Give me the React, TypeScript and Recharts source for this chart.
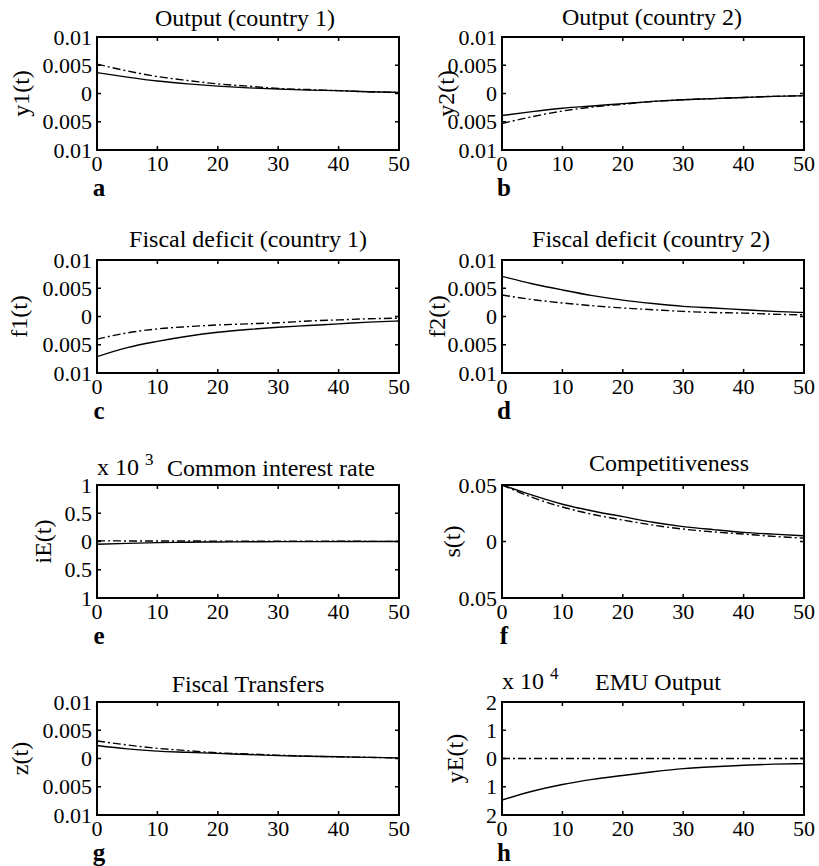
import React from 'react';
import { LineChart, Line, XAxis, YAxis, ReferenceArea } from 'recharts';

// ---- data ----
const tSteps = [0, 5, 10, 15, 20, 25, 30, 35, 40, 45, 50];
const xTicks = [0, 10, 20, 30, 40, 50];

const y1Solid = [0.0037, 0.0029, 0.0022, 0.0017, 0.0013, 0.001, 0.0008, 0.0006, 0.0005, 0.0003, 0.0002];
const y1Dash = [0.0052, 0.004, 0.003, 0.0023, 0.0017, 0.0013, 0.0009, 0.0007, 0.0005, 0.0003, 0.0002];
const y2Solid = [-0.0039, -0.0032, -0.0026, -0.0022, -0.0018, -0.0014, -0.0011, -0.0009, -0.0007, -0.0005, -0.0004];
const y2Dash = [-0.0053, -0.0041, -0.0031, -0.0024, -0.0019, -0.0014, -0.0011, -0.0009, -0.0007, -0.0005, -0.0004];
const f1Solid = [-0.0071, -0.0055, -0.0044, -0.0035, -0.0028, -0.0023, -0.0019, -0.0016, -0.0013, -0.001, -0.0008];
const f1Dash = [-0.004, -0.0029, -0.0022, -0.0018, -0.0015, -0.0013, -0.0011, -0.0008, -0.0006, -0.0004, -0.0003];
const f2Solid = [0.0071, 0.0058, 0.0047, 0.0037, 0.0029, 0.0023, 0.0018, 0.0015, 0.0012, 0.0009, 0.0007];
const f2Dash = [0.0038, 0.003, 0.0024, 0.0019, 0.0015, 0.0012, 0.0009, 0.0007, 0.0006, 0.0004, 0.0003];
const iESolid = [-0.00005, -0.000033, -0.00002, -0.000013, -0.000008, -0.000005, -0.000003, -0.000002, -0.000001, 0, 0];
const iEDash = [0.000012, 0.00001, 0.000009, 0.000008, 0.000007, 0.000006, 0.000005, 0.000004, 0.000004, 0.000003, 0.000003];
const sSolid = [0.05, 0.041, 0.033, 0.027, 0.022, 0.017, 0.0132, 0.0105, 0.0081, 0.0065, 0.0051];
const sDash = [0.05, 0.039, 0.0305, 0.024, 0.019, 0.0145, 0.011, 0.0085, 0.0066, 0.0045, 0.003];
const zSolid = [0.0023, 0.0017, 0.0013, 0.0011, 0.0009, 0.0007, 0.0005, 0.0004, 0.0003, 0.0002, 0.0001];
const zDash = [0.0031, 0.0024, 0.0018, 0.0014, 0.001, 0.0008, 0.0006, 0.0004, 0.0003, 0.0002, 0.0001];
const yESolid = [-0.000147, -0.000116, -0.000092, -0.000074, -0.00006, -0.000047, -0.000036, -0.000029, -0.000024, -0.00002, -0.000018];
const yEDash = [0, 0, 0, 0, 0, 0, 0, 0, 0, 0, 0];

const ticks01 = [-0.01, -0.005, 0, 0.005, 0.01];
const ticksS = [-0.05, 0, 0.05];
const ticksIE = [-0.001, -0.0005, 0, 0.0005, 0.001];
const ticksYE = [-0.0002, -0.0001, 0, 0.0001, 0.0002];

const titles = [
  'Output (country 1)', 'Output (country 2)',
  'Fiscal deficit (country 1)', 'Fiscal deficit (country 2)',
  'Common interest rate', 'Competitiveness',
  'Fiscal Transfers', 'EMU Output',
];
const yLabels = ['y1(t)', 'y2(t)', 'f1(t)', 'f2(t)', 'iE(t)', 's(t)', 'z(t)', 'yE(t)'];
const letters = ['a', 'b', 'c', 'd', 'e', 'f', 'g', 'h'];
const solids = [y1Solid, y2Solid, f1Solid, f2Solid, iESolid, sSolid, zSolid, yESolid];
const dashes = [y1Dash, y2Dash, f1Dash, f2Dash, iEDash, sDash, zDash, yEDash];
const yTicks = [ticks01, ticks01, ticks01, ticks01, ticksIE, ticksS, ticks01, ticksYE];
const scales = [1, 1, 1, 1, 1000, 1, 1, 10000];
const exponents = ['', '', '', '', '3', '', '', '4'];

// ---- layout (positions only) ----
const FONT = '"Liberation Serif", "Times New Roman", serif';
const FRAME = '#000';
const rowTops = [37, 260, 485, 702];
const plotLefts = [97, 502];
const PW = 302;
const PH = 113;
const TOPM = 20;
const XAH = 40;
const YAW = 60;
const TL = 4;
const titleX = [245, 652, 248, 651, 271, 669, 248, 658];
const titleY = [26, 25, 247, 247, 476, 471, 692, 690];
const yLabelX = [21, 446, 19, 437, 43, 452, 20, 455];

const fmt = (scale: number) => (v: number) =>
  String(parseFloat((Math.abs(v) * scale).toPrecision(6)));

function XTick(props: any) {
  const { x, y, payload } = props;
  const top = y - PH;
  return (
    <g>
      <path d={`M${x},${y}V${y - TL}M${x},${top}V${top + TL}`} stroke={FRAME} strokeWidth={1.5} fill="none" />
      <text x={x} y={y + 21} textAnchor="middle" fontFamily={FONT} fontSize={22} fill="#000">
        {payload.value}
      </text>
    </g>
  );
}

function makeYTick(scale: number) {
  const f = fmt(scale);
  return function YTick(props: any) {
    const { x, y, payload } = props;
    const right = x + PW;
    return (
      <g>
        <path d={`M${x},${y}H${x + TL}M${right},${y}H${right - TL}`} stroke={FRAME} strokeWidth={1.5} fill="none" />
        <text x={x - 5} y={y} dy="0.35em" textAnchor="end" fontFamily={FONT} fontSize={22} fill="#000">
          {f(payload.value)}
        </text>
      </g>
    );
  };
}

function Panel({ idx }: { idx: number }) {
  const col = idx % 2;
  const row = Math.floor(idx / 2);
  const colLeft = col * 410;
  const plotLeft = plotLefts[col];
  const plotTop = rowTops[row];
  const ticks = yTicks[idx];
  const lo = ticks[0];
  const hi = ticks[ticks.length - 1];
  const data = tSteps.map((t, i) => ({ t, solid: solids[idx][i], dash: dashes[idx][i] }));
  const leftM = plotLeft - colLeft - YAW;
  const rightM = 410 - (plotLeft - colLeft) - PW;
  const YTick = makeYTick(scales[idx]);
  return (
    <div style={{ position: 'absolute', left: colLeft, top: plotTop - TOPM }}>
      <LineChart
        width={410}
        height={TOPM + PH + XAH}
        data={data}
        margin={{ top: TOPM, right: rightM, bottom: 0, left: leftM }}
      >
        <XAxis
          dataKey="t"
          type="number"
          domain={[0, 50]}
          ticks={xTicks}
          height={XAH}
          tickSize={0}
          tickMargin={0}
          axisLine={false}
          tickLine={false}
          tick={<XTick />}
          interval={0}
          allowDataOverflow
        />
        <YAxis
          type="number"
          domain={[lo, hi]}
          ticks={ticks}
          width={YAW}
          tickSize={0}
          tickMargin={0}
          axisLine={false}
          tickLine={false}
          tick={<YTick />}
          interval={0}
          allowDataOverflow
        />
        <ReferenceArea
          x1={0}
          x2={50}
          y1={lo}
          y2={hi}
          fill="none"
          stroke={FRAME}
          strokeWidth={2}
          ifOverflow="visible"
        />
        <Line
          dataKey="solid"
          type="monotone"
          stroke="#000"
          strokeWidth={1.4}
          dot={false}
          isAnimationActive={false}
        />
        <Line
          dataKey="dash"
          type="monotone"
          stroke="#000"
          strokeWidth={1.4}
          strokeDasharray="8 3 2 3"
          dot={false}
          isAnimationActive={false}
        />
      </LineChart>
    </div>
  );
}

export default function App() {
  const idxs = [0, 1, 2, 3, 4, 5, 6, 7];
  return (
    <div style={{ position: 'absolute', left: 0, top: 0, width: 819, height: 866, background: '#fff' }}>
      {idxs.map((i) => (
        <Panel key={i} idx={i} />
      ))}
      <svg
        width={819}
        height={866}
        style={{ position: 'absolute', left: 0, top: 0, pointerEvents: 'none' }}
        fontFamily={FONT}
      >
        {idxs.map((i) => {
          const col = i % 2;
          const row = Math.floor(i / 2);
          const plotLeft = plotLefts[col];
          const plotTop = rowTops[row];
          const cy = plotTop + PH / 2;
          return (
            <g key={i}>
              <text x={titleX[i]} y={titleY[i]} textAnchor="middle" fontSize={24} fill="#000">
                {titles[i]}
              </text>
              <text
                transform={`translate(${yLabelX[i]},${cy}) rotate(-90)`}
                textAnchor="middle"
                dominantBaseline="central"
                fontSize={24}
                fill="#000"
              >
                {yLabels[i]}
              </text>
              <text
                x={plotLeft + 2}
                y={plotTop + PH + 46}
                textAnchor="middle"
                fontSize={25}
                fontWeight="bold"
                fill="#000"
              >
                {letters[i]}
              </text>
              {exponents[i] !== '' && (
                <g>
                  <text x={plotLeft} y={titleY[i] - 1} fontSize={24} fill="#000">
                    x 10
                  </text>
                  <text x={plotLeft + 48} y={titleY[i] - 11} fontSize={17} fill="#000">
                    {exponents[i]}
                  </text>
                </g>
              )}
            </g>
          );
        })}
      </svg>
    </div>
  );
}
